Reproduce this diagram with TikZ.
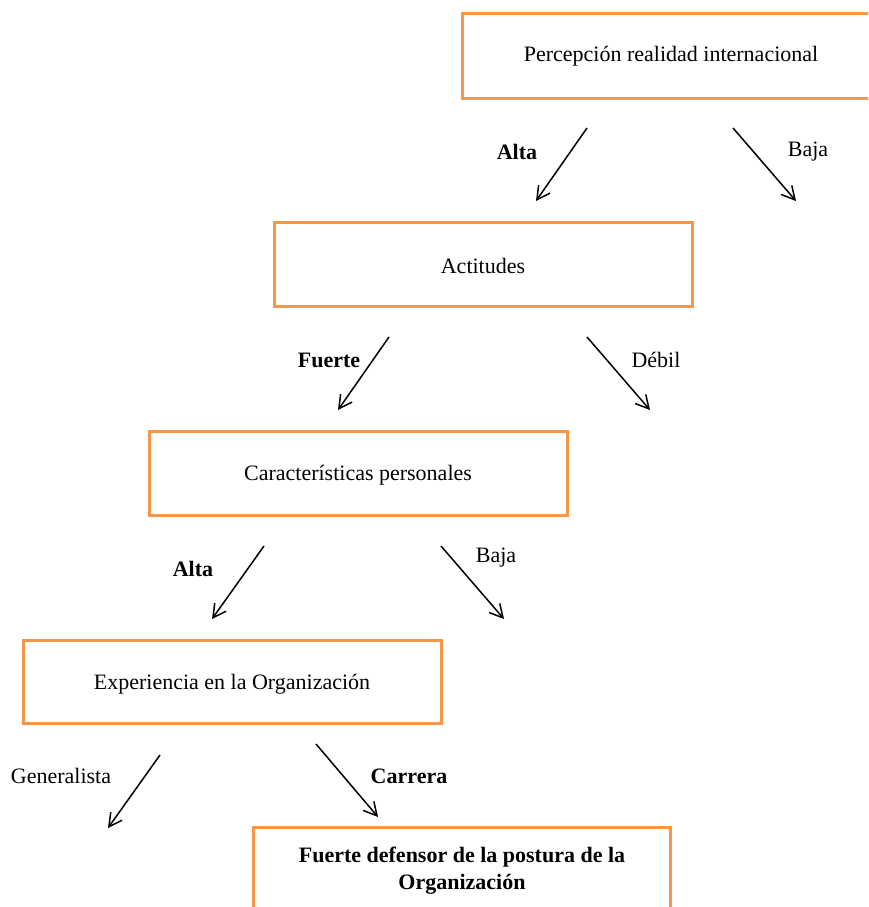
\documentclass[tikz,border=0pt]{standalone}
\usepackage{fontspec}
\setmainfont{Liberation Serif}
\usetikzlibrary{arrows.meta}
\definecolor{boxorange}{HTML}{F79646}
\begin{document}
\begin{tikzpicture}[x=1pt,y=-1pt,
  every node/.style={font=\fontsize{22}{27}\selectfont, inner sep=0pt},
  stagebox/.style={draw=boxorange, line width=3pt, fill=white},
  branch/.style={line width=1.5pt, -{Straight Barb[length=13pt,width=14pt,line width=1.5pt]}},
  boldlabel/.style={font=\fontsize{22}{27}\selectfont\bfseries}]
\useasboundingbox (0,0) rectangle (868,907);
\begin{scope}
\clip (0,0) rectangle (868,907);

% Stage boxes
\draw[stagebox] (462,14) rectangle (880,98);
\node (perc) at (671,56) {Percepción realidad internacional};
\draw[stagebox] (274,222) rectangle (692,306);
\node (act) at (483,266) {Actitudes};
\draw[stagebox] (149,431) rectangle (567,515);
\node (car) at (358,475) {Características personales};
\draw[stagebox] (23,640) rectangle (441,723);
\node (exp) at (232,684) {Experiencia en la Organización};
\draw[stagebox] (253,827) rectangle (670,930);
\node[boldlabel, align=center] (fin) at (462,871) {Fuerte defensor de la postura de la\\Organización};

% Branch arrows
\coordinate (a1s) at (587,128); \coordinate (a1e) at (536,201);
\coordinate (b1s) at (733,128); \coordinate (b1e) at (796,201);
\coordinate (a2s) at (389,337); \coordinate (a2e) at (338,410);
\coordinate (b2s) at (587,337); \coordinate (b2e) at (650,410);
\coordinate (a3s) at (264,546); \coordinate (a3e) at (212,619);
\coordinate (b3s) at (441,546); \coordinate (b3e) at (504,619);
\coordinate (a4s) at (160,755); \coordinate (a4e) at (108,828);
\coordinate (b4s) at (316,744); \coordinate (b4e) at (378,817);
\draw[branch] (a1s) -- (a1e);
\draw[branch] (b1s) -- (b1e);
\draw[branch] (a2s) -- (a2e);
\draw[branch] (b2s) -- (b2e);
\draw[branch] (a3s) -- (a3e);
\draw[branch] (b3s) -- (b3e);
\draw[branch] (a4s) -- (a4e);
\draw[branch] (b4s) -- (b4e);

% Branch labels
\node[boldlabel] (l1a) at (517,152) {Alta};
\node (l1b) at (808,152) {Baja};
\node[boldlabel] (l2a) at (329,360) {Fuerte};
\node (l2b) at (656,360) {Débil};
\node[boldlabel] (l3a) at (193,569) {Alta};
\node (l3b) at (496,558) {Baja};
\node (l4a) at (61,776) {Generalista};
\node[boldlabel] (l4b) at (409,776) {Carrera};
\end{scope}
\end{tikzpicture}
\end{document}
